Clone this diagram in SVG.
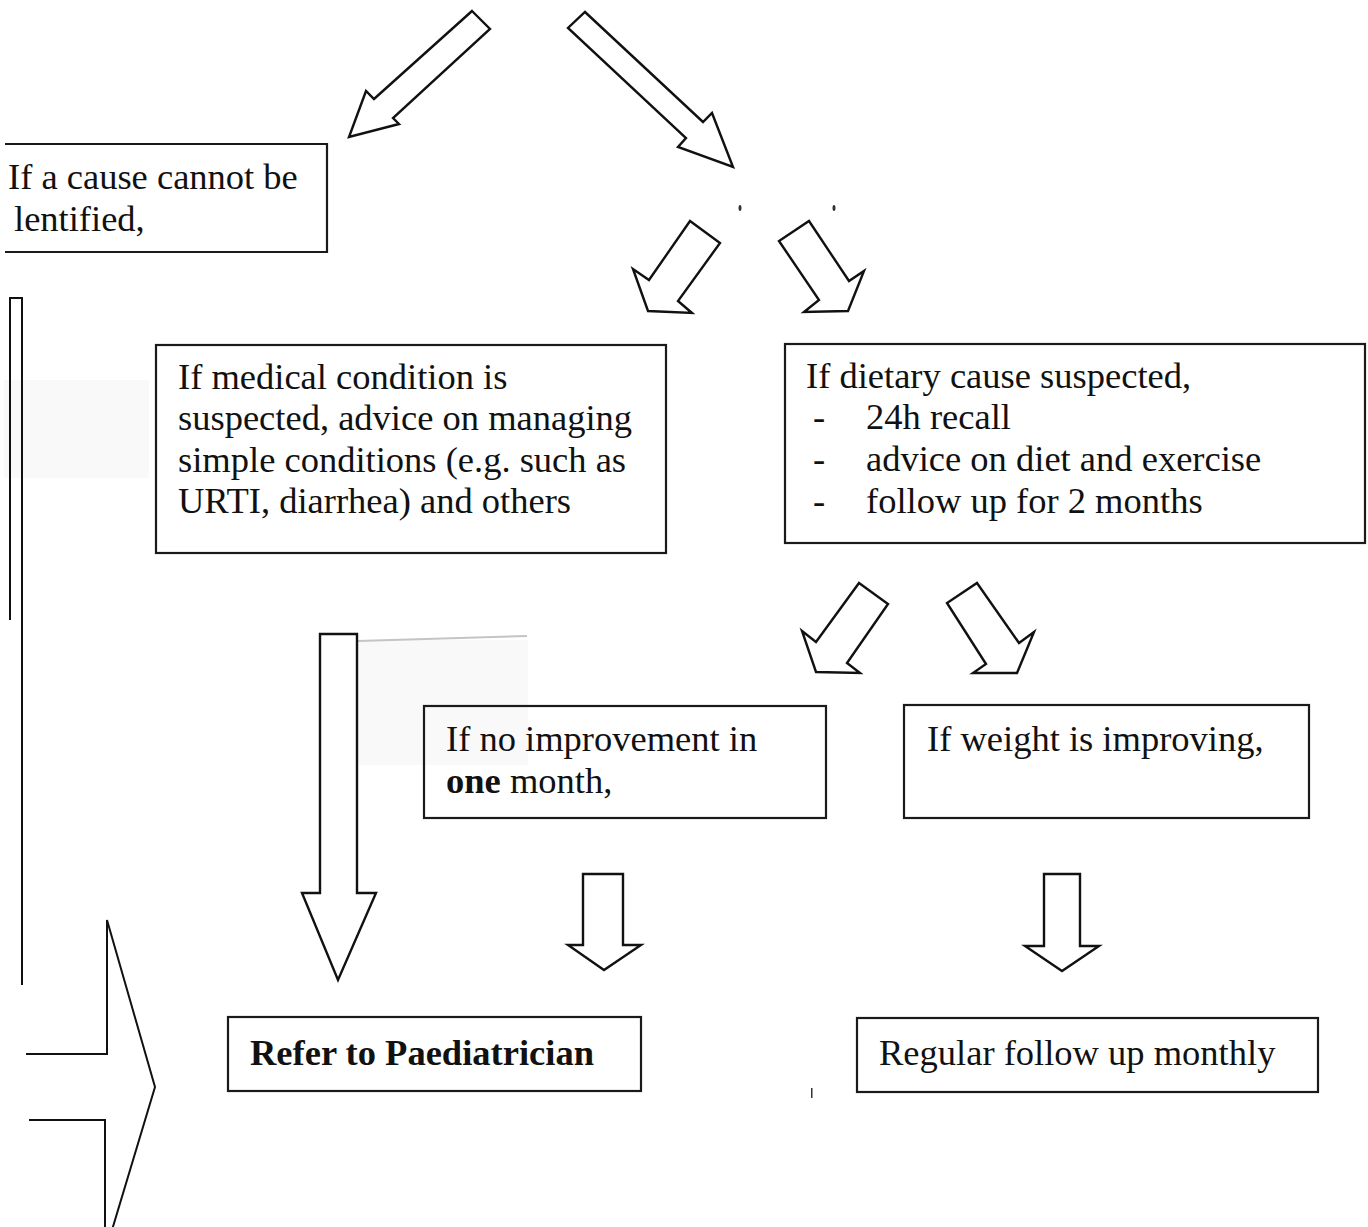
<svg xmlns="http://www.w3.org/2000/svg" width="1368" height="1227" viewBox="0 0 1368 1227">
<style>
.box{fill:none;stroke:#1a1a1a;stroke-width:2.2}
.arr{fill:#fff;stroke:#111;stroke-width:2.4;stroke-linejoin:miter}
.ln{fill:none;stroke:#111;stroke-width:2}
text{font-family:"Liberation Serif","Times New Roman",serif;font-size:36.5px;fill:#111}
.b{font-weight:bold}
.speck{fill:#333}
</style>
<rect width="1368" height="1227" fill="#fff"/>
<g id="scan-artifacts">
<rect x="4" y="380" width="145" height="98" fill="#f9f9f9"/>
<rect x="358" y="640" width="170" height="125" fill="#f9f9f9"/>
<line x1="358" y1="641" x2="527" y2="636" stroke="#c4c4c4" stroke-width="2"/>
<ellipse cx="740" cy="208" rx="1.5" ry="3" class="speck"/>
<ellipse cx="834" cy="208" rx="1.5" ry="3" class="speck"/>
<rect x="811" y="1088" width="1.5" height="10" class="speck"/>
</g>
<g id="connectors">
<polygon class="arr" points="472,11 490,29 393,118 399,124 349,137 366,91 374,99"/>
<polygon class="arr" points="585,12 703,122 712,113 733,167 678,147 686,138 568,28"/>
<polygon class="arr" points="690,221 720,243 678,301 692,313 648,311 633,269 649,280"/>
<polygon class="arr" points="809,221 849,281 864,271 848,311 804,312 819,300 779,241"/>
<polygon class="arr" points="859,583 888,604 847,663 860,673 816,672 802,631 816,642"/>
<polygon class="arr" points="977,583 1019,643 1034,632 1017,673 973,673 986,664 947,603"/>
<polygon class="arr" points="320,634 357,634 357,893 376,893 338,980 302,893 320,893"/>
<polygon class="arr" points="583,874 623,874 623,945 641,945 604,970 568,945 583,945"/>
<polygon class="arr" points="1044,874 1080,874 1080,946 1099,946 1062,971 1025,946 1044,946"/>
<path class="ln" d="M10,620 V298 H22 V985"/>
<path class="ln" d="M26,1054 H107 V920 L155,1087 L112,1230"/>
<path class="ln" d="M29,1120 H105 V1227"/>
</g>
<g id="node-cause">
<path class="box" d="M5,144 H327 V252 H5"/>
<text x="8" y="189">If a cause cannot be</text>
<text x="14" y="231">lentified,</text>
</g>
<g id="node-medical">
<rect class="box" x="156" y="345" width="510" height="208"/>
<text x="178" y="389">If medical condition is</text>
<text x="178" y="430">suspected, advice on managing</text>
<text x="178" y="472">simple conditions (e.g. such as</text>
<text x="178" y="513">URTI, diarrhea) and others</text>
</g>
<g id="node-dietary">
<rect class="box" x="785" y="344" width="580" height="199"/>
<text x="806" y="388">If dietary cause suspected,</text>
<text x="813" y="429">-</text>
<text x="866" y="429">24h recall</text>
<text x="813" y="471">-</text>
<text x="866" y="471">advice on diet and exercise</text>
<text x="813" y="513">-</text>
<text x="866" y="513">follow up for 2 months</text>
</g>
<g id="node-noimprove">
<rect class="box" x="424" y="706" width="402" height="112"/>
<text x="446" y="751">If no improvement in</text>
<text x="446" y="793"><tspan class="b">one</tspan> month,</text>
</g>
<g id="node-weight">
<rect class="box" x="904" y="705" width="405" height="113"/>
<text x="927" y="751">If weight is improving,</text>
</g>
<g id="node-refer">
<rect class="box" x="228" y="1017" width="413" height="74"/>
<text class="b" x="250" y="1065">Refer to Paediatrician</text>
</g>
<g id="node-regular">
<rect class="box" x="857" y="1018" width="461" height="74"/>
<text x="879" y="1065">Regular follow up monthly</text>
</g>
</svg>
